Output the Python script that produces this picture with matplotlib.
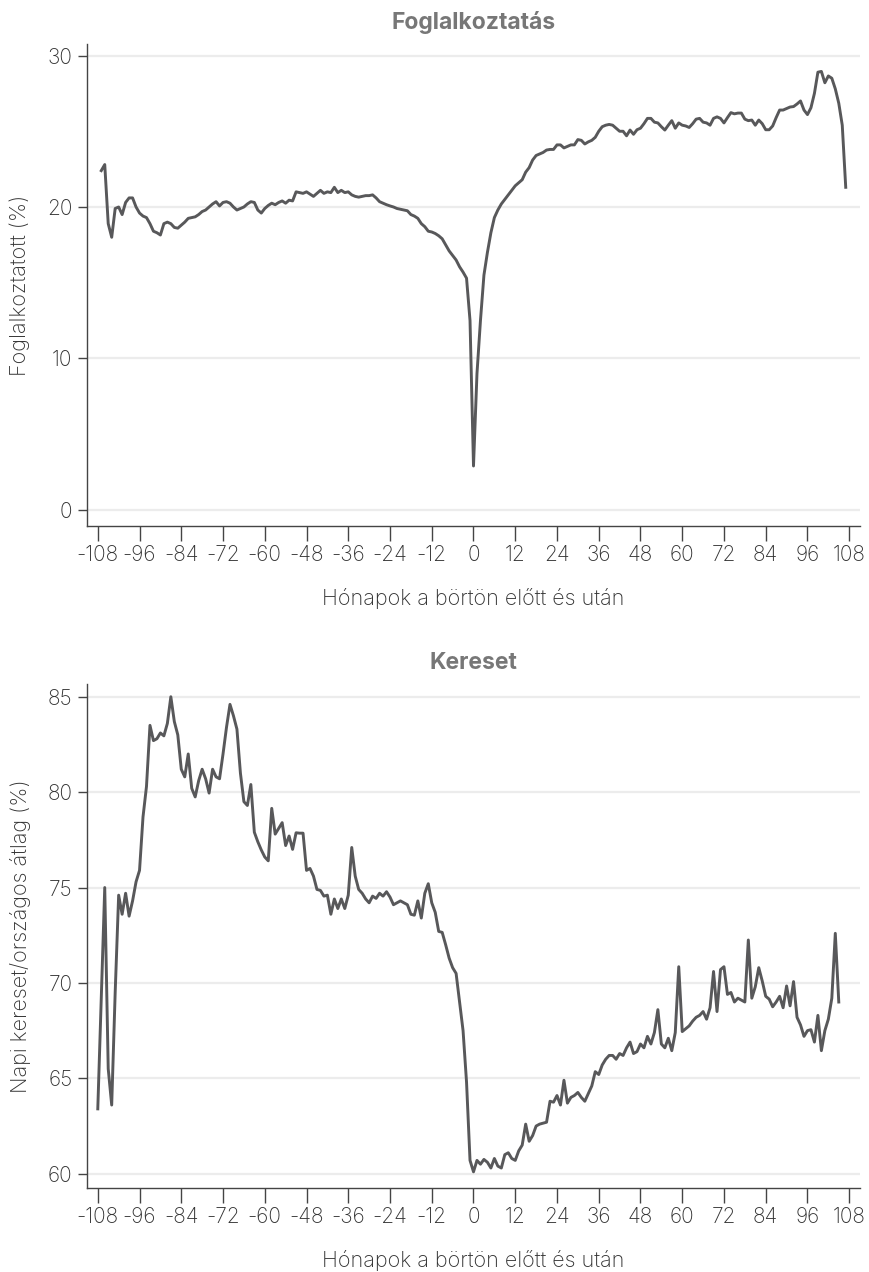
import numpy as np
import matplotlib
matplotlib.use("Agg")
import matplotlib.pyplot as plt
from matplotlib import font_manager

# ---------------- data ----------------
emp_start = -107
employment = [
    22.4, 22.8, 18.9, 18.0, 19.9, 20.0, 19.5, 20.3, 20.6, 20.6,   # -107..-98
    20.0, 19.6, 19.4, 19.3, 18.9, 18.4, 18.3, 18.15, 18.9, 19.0,  # -97..-88
    18.9, 18.65, 18.6, 18.8, 19.0, 19.25, 19.3, 19.35, 19.5, 19.7, # -87..-78
    19.8, 20.0, 20.2, 20.35, 20.07, 20.3, 20.35, 20.25, 20.0, 19.8, # -77..-68
    19.9, 20.0, 20.2, 20.35, 20.3, 19.8, 19.6, 19.9, 20.1, 20.25,  # -67..-58
    20.15, 20.3, 20.4, 20.25, 20.45, 20.4, 21.0, 20.95, 20.9, 21.0, # -57..-48
    20.85, 20.7, 20.9, 21.1, 20.9, 21.0, 20.95, 21.3, 20.95, 21.1, # -47..-38
    20.95, 21.0, 20.8, 20.7, 20.65, 20.7, 20.75, 20.75, 20.8, 20.6, # -37..-28
    20.35, 20.25, 20.15, 20.07, 20.0, 19.9, 19.85, 19.8, 19.75, 19.5, # -27..-18
    19.4, 19.25, 18.9, 18.7, 18.4, 18.35, 18.25, 18.1, 17.9, 17.5, # -17..-8
    17.1, 16.8, 16.5, 16.05, 15.7, 15.3, 12.5, 2.9, 9.0, 12.5,     # -7..2
    15.5, 17.0, 18.3, 19.3, 19.8, 20.2, 20.5, 20.8, 21.1, 21.4,    # 3..12
    21.6, 21.8, 22.3, 22.6, 23.1, 23.4, 23.5, 23.6, 23.76, 23.8,   # 13..22
    23.8, 24.1, 24.1, 23.9, 24.0, 24.1, 24.1, 24.45, 24.4, 24.16,  # 23..32
    24.3, 24.4, 24.6, 25.0, 25.3, 25.4, 25.45, 25.4, 25.2, 25.0,   # 33..42
    25.0, 24.7, 25.08, 24.8, 25.1, 25.2, 25.5, 25.85, 25.85, 25.6, # 43..52
    25.55, 25.3, 25.08, 25.4, 25.7, 25.2, 25.55, 25.4, 25.35, 25.25, # 53..62
    25.5, 25.8, 25.85, 25.6, 25.55, 25.4, 25.85, 25.95, 25.85, 25.55, # 63..72
    25.9, 26.23, 26.15, 26.2, 26.2, 25.8, 25.7, 25.74, 25.4, 25.74, # 73..82
    25.5, 25.1, 25.1, 25.35, 25.9, 26.4, 26.4, 26.5, 26.6, 26.63,  # 83..92
    26.8, 27.0, 26.4, 26.1, 26.55, 27.5, 28.9, 28.95, 28.2, 28.65, # 93..102
    28.5, 27.8, 26.85, 25.4, 21.3,                                 # 103..107
]

earn_start = -108
earnings = [
    63.4, 69.2, 75.0, 65.5, 63.6, 69.5, 74.6, 73.6, 74.7, 73.5,    # -108..-99
    74.3, 75.3, 75.9, 78.7, 80.3, 83.5, 82.7, 82.8, 83.1, 82.95,   # -98..-89
    83.6, 85.0, 83.7, 83.0, 81.2, 80.8, 82.0, 80.2, 79.75, 80.6,   # -88..-79
    81.2, 80.7, 79.95, 81.2, 80.8, 80.7, 82.0, 83.4, 84.6, 84.0,   # -78..-69
    83.3, 81.0, 79.5, 79.3, 80.4, 77.9, 77.4, 76.97, 76.6, 76.4,   # -68..-59
    79.15, 77.8, 78.1, 78.4, 77.2, 77.7, 77.0, 77.87, 77.85, 77.85, # -58..-49
    75.9, 76.0, 75.6, 74.9, 74.85, 74.55, 74.6, 73.6, 74.4, 73.9,  # -48..-39
    74.4, 73.9, 74.6, 77.1, 75.6, 74.9, 74.7, 74.4, 74.2, 74.55,   # -38..-29
    74.43, 74.7, 74.55, 74.78, 74.5, 74.1, 74.2, 74.3, 74.2, 74.1, # -28..-19
    73.6, 73.55, 74.3, 73.4, 74.7, 75.2, 74.2, 73.7, 72.7, 72.65,  # -18..-9
    72.0, 71.3, 70.8, 70.5, 69.0, 67.5, 64.8, 60.7, 60.1, 60.7,    # -8..1
    60.5, 60.75, 60.6, 60.3, 60.8, 60.4, 60.3, 61.0, 61.1, 60.8,   # 2..11
    60.7, 61.2, 61.5, 62.6, 61.7, 62.0, 62.5, 62.6, 62.65, 62.7,   # 12..21
    63.8, 63.75, 64.1, 63.6, 64.9, 63.7, 64.0, 64.1, 64.26, 64.0,  # 22..31
    63.8, 64.2, 64.6, 65.35, 65.2, 65.7, 66.0, 66.2, 66.2, 66.0,   # 32..41
    66.3, 66.2, 66.6, 66.9, 66.3, 66.4, 66.8, 66.6, 67.2, 66.8,    # 42..51
    67.4, 68.6, 66.8, 66.6, 67.1, 66.45, 67.4, 70.85, 67.45, 67.6, # 52..61
    67.75, 68.0, 68.2, 68.3, 68.5, 68.1, 68.7, 70.6, 68.5, 70.7,   # 62..71
    70.85, 69.4, 69.5, 69.0, 69.2, 69.1, 69.0, 72.25, 69.2, 69.8,  # 72..81
    70.8, 70.1, 69.3, 69.15, 68.75, 69.0, 69.3, 68.7, 69.84, 68.8, # 82..91
    70.07, 68.2, 67.8, 67.2, 67.5, 67.55, 66.9, 68.3, 66.45, 67.5, # 92..101
    68.1, 69.2, 72.6, 69.0,                                        # 102..105
]

emp_months = np.arange(emp_start, emp_start + len(employment))
earn_months = np.arange(earn_start, earn_start + len(earnings))

x_ticks = list(range(-108, 109, 12))
emp_yticks = [0, 10, 20, 30]
earn_yticks = [60, 65, 70, 75, 80, 85]

titles = ["Foglalkoztatás", "Kereset"]
ylabels = ["Foglalkoztatott (%)", "Napi kereset/országos átlag (%)"]
xlabel = "Hónapok a börtön előtt és után"

# ---------------- style ----------------
fams = [f.name for f in font_manager.fontManager.ttflist]
font = "Inter" if "Inter" in fams else "DejaVu Sans"
plt.rcParams["font.family"] = [font, "DejaVu Sans"]

line_color = "#58585a"
text_color = "#333333"
title_color = "#777777"
grid_color = "#ececec"

fig = plt.figure(figsize=(8.7, 12.72), dpi=100)
ax1 = fig.add_axes([0.1, 0.5865, 0.8885, 0.3789])
ax2 = fig.add_axes([0.1, 0.066, 0.8885, 0.3963])

panels = [
    (ax1, emp_months, employment, emp_yticks, (-1.06, 30.76)),
    (ax2, earn_months, earnings, earn_yticks, (59.25, 85.67)),
]

for i, (ax, xm, yv, yt, ylim) in enumerate(panels):
    ax.plot(xm, yv, color=line_color, lw=2.1, solid_joinstyle="round", zorder=3)
    ax.set_xlim(-111.1, 111.1)
    ax.set_ylim(*ylim)
    ax.set_xticks(x_ticks)
    ax.set_xticklabels([str(t) for t in x_ticks])
    ax.set_yticks(yt)
    for t in yt:
        ax.axhline(t, color=grid_color, lw=1.6, zorder=1)
    for s in ["top", "right"]:
        ax.spines[s].set_visible(False)
    for s in ["left", "bottom"]:
        ax.spines[s].set_color("#444444")
        ax.spines[s].set_linewidth(1.0)
    ax.tick_params(axis="x", length=11, width=1.0, color="#444444",
                   labelsize=15, labelcolor=text_color, pad=3)
    ax.tick_params(axis="y", length=6.5, width=1.0, color="#444444",
                   labelsize=15, labelcolor=text_color, pad=4)
    for lab in ax.get_xticklabels() + ax.get_yticklabels():
        lab.set_fontweight("light")
    ax.set_title(titles[i], fontsize=16.5, fontweight="bold", color=title_color, pad=11)
    ax.set_ylabel(ylabels[i], fontsize=15.5, color=text_color, fontweight="light", labelpad=12)
    ax.set_xlabel(xlabel, fontsize=15.5, color=text_color, fontweight="light", labelpad=16)

fig.savefig("out.png", dpi=100, facecolor="white")
